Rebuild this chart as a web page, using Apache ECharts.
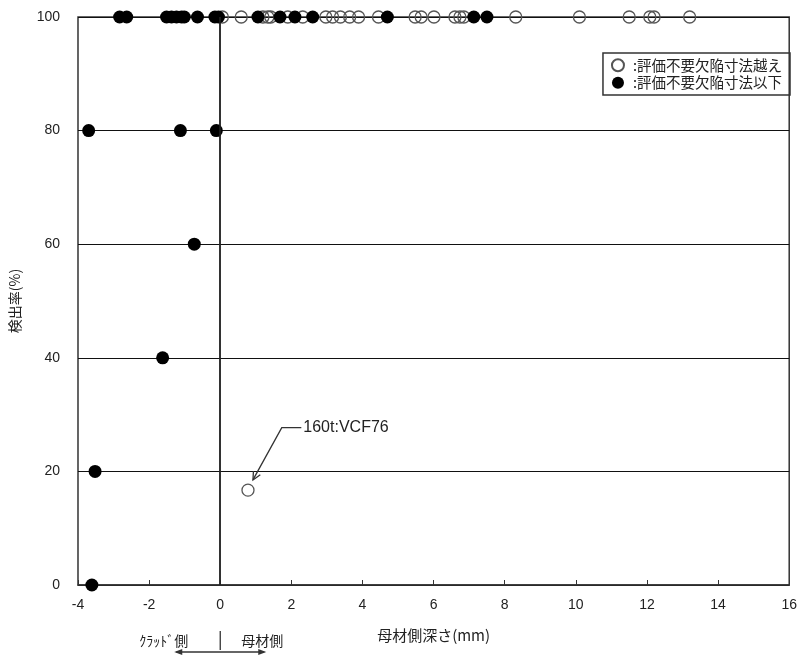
<!DOCTYPE html>
<html><head><meta charset="utf-8">
<script src="https://cdn.jsdelivr.net/npm/echarts@6/dist/echarts.min.js"></script>
<style>html,body{margin:0;padding:0;background:#fff}#c{width:800px;height:655px}</style>
</head><body><div id="c"></div>
<script>
const xTicks = [-4, 16, 2];
const yTicks = [0, 100, 20];
const overName = ':評価不要欠陥寸法越え';
const belowName = ':評価不要欠陥寸法以下';
// open circles (exceeding)
const overX = [0.06,0.59,1.20,1.34,1.42,1.90,2.32,2.97,3.16,3.38,3.64,3.89,4.45,5.48,5.65,6.01,6.60,6.74,6.85,8.31,10.10,11.50,12.08,12.20,13.20,0.78];
const overY = [100,100,100,100,100,100,100,100,100,100,100,100,100,100,100,100,100,100,100,100,100,100,100,100,100,16.7];
// filled circles (below)
const belowX = [-2.83,-2.63,-1.51,-1.37,-1.23,-1.09,-1.01,-0.64,-0.15,-0.05,1.06,1.68,2.10,2.60,4.70,7.13,7.50,-3.70,-1.12,-0.11,-0.73,-1.62,-3.52,-3.61];
const belowY = [100,100,100,100,100,100,100,100,100,100,100,100,100,100,100,100,100,80,80,80,60,40,20,0];
const noteText = '160t:VCF76';
const notePts = [[0.92,18.5],[1.73,27.7],[2.28,27.7]];
const sideLabels = ['ｸﾗｯﾄﾞ側', '母材側'];

const chart = echarts.init(document.getElementById('c'));
const font = 'Liberation Sans, Arial, sans-serif';
const jfont = '"Noto Sans CJK JP", sans-serif';
chart.setOption({
  animation: false,
  backgroundColor: '#fff',
  grid: { left: 77, right: 8, top: 17, bottom: 70, show: true, borderColor: '#333', borderWidth: 1.5 },
  xAxis: {
    type: 'value', min: xTicks[0], max: xTicks[1], interval: xTicks[2],
    name: '母材側深さ(mm)', nameLocation: 'middle', nameGap: 43,
    nameTextStyle: { fontFamily: jfont, fontSize: 15, color: '#222' },
    axisLine: { lineStyle: { color: '#333', width: 1.5 } },
    axisTick: { inside: true, length: 5, lineStyle: { color: '#333' } },
    axisLabel: { fontFamily: font, fontSize: 14, color: '#222', margin: 13 },
    splitLine: { show: false }
  },
  yAxis: {
    type: 'value', min: yTicks[0], max: yTicks[1], interval: yTicks[2],
    name: '検出率(%)', nameLocation: 'middle', nameGap: 56,
    nameTextStyle: { fontFamily: jfont, fontSize: 14, color: '#222' },
    axisLine: { lineStyle: { color: '#333', width: 1.5 } },
    axisTick: { show: false },
    axisLabel: { fontFamily: font, fontSize: 14, color: '#222', margin: 18 },
    splitLine: { lineStyle: { color: '#111', width: 1.2 } }
  },
  legend: {
    orient: 'vertical', right: 10, top: 53,
    borderColor: '#333', borderWidth: 1.5, padding: [5, 8, 5, 8], itemGap: 3,
    itemWidth: 12, itemHeight: 12,
    textStyle: { fontFamily: jfont, fontSize: 14.5, color: '#222', padding: [0, 0, 0, 4] },
    data: [{ name: overName, icon: 'circle' }, { name: belowName, icon: 'circle' }]
  },
  series: [
    {
      name: overName, type: 'scatter', symbol: 'circle', symbolSize: 12, z: 3,
      itemStyle: { color: 'rgba(255,255,255,0)', borderColor: '#555', borderWidth: 1.3, opacity: 1 },
      data: overX.map((x, i) => [x, overY[i]]),
      markLine: {
        silent: true, symbol: 'none', label: { show: false },
        lineStyle: { color: '#222', width: 1.5, type: 'solid' },
        data: [{ xAxis: 0 }]
      }
    },
    {
      name: belowName, type: 'scatter', symbol: 'circle', symbolSize: 13, z: 4,
      itemStyle: { color: '#000', opacity: 1 },
      data: belowX.map((x, i) => [x, belowY[i]])
    }
  ]
});

const P = notePts.map(p => chart.convertToPixel({ gridIndex: 0 }, p));
const x0 = chart.convertToPixel({ gridIndex: 0 }, [0, 0])[0];
const ang = Math.atan2(P[0][1] - P[1][1], P[0][0] - P[1][0]);
const ah = 9, aw = 0.45;
chart.setOption({
  graphic: [
    { type: 'polyline', shape: { points: [P[2], P[1], P[0]] }, style: { stroke: '#333', lineWidth: 1.3, fill: null }, z: 10 },
    { type: 'polyline', shape: { points: [
        [P[0][0] - ah * Math.cos(ang - aw), P[0][1] - ah * Math.sin(ang - aw)],
        P[0],
        [P[0][0] - ah * Math.cos(ang + aw), P[0][1] - ah * Math.sin(ang + aw)]
      ] }, style: { stroke: '#333', lineWidth: 1.3, fill: null }, z: 10 },
    { type: 'text', x: P[2][0] + 2, y: P[2][1], style: { text: noteText, fontFamily: font, fontSize: 16, fill: '#222', verticalAlign: 'middle' }, z: 10 },
    { type: 'line', shape: { x1: x0, y1: 631, x2: x0, y2: 650 }, style: { stroke: '#333', lineWidth: 1.3 } },
    { type: 'line', shape: { x1: x0 - 44, y1: 652, x2: x0 + 44, y2: 652 }, style: { stroke: '#333', lineWidth: 1.3 } },
    { type: 'polygon', shape: { points: [[x0 - 46, 652], [x0 - 38, 649], [x0 - 38, 655]] }, style: { fill: '#333' } },
    { type: 'polygon', shape: { points: [[x0 + 46, 652], [x0 + 38, 649], [x0 + 38, 655]] }, style: { fill: '#333' } },
    { type: 'text', x: x0 - 32, y: 641, style: { text: sideLabels[0], fontFamily: jfont, fontSize: 14, fill: '#222', align: 'right', verticalAlign: 'middle' } },
    { type: 'text', x: x0 + 21, y: 641, style: { text: sideLabels[1], fontFamily: jfont, fontSize: 14, fill: '#222', align: 'left', verticalAlign: 'middle' } }
  ]
});
</script></body></html>
